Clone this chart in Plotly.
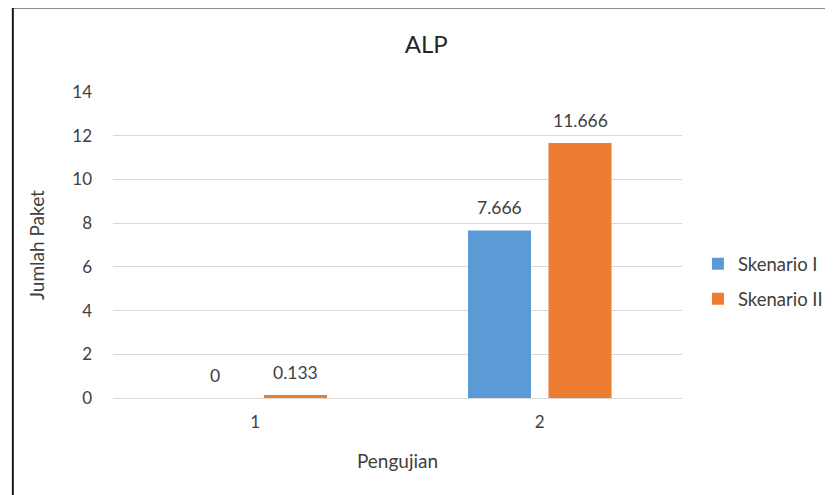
import plotly.graph_objects as go

categories = ["1", "2"]
skenario_1 = [0, 7.666]
skenario_2 = [0.133, 11.666]
labels_1 = ["0", "7.666"]
labels_2 = ["0.133", "11.666"]
y_ticks = [0, 2, 4, 6, 8, 10, 12, 14]

FONT = "Lato, 'Open Sans', sans-serif"
TXT = "#404040"
BARGAP = 0.434

fig = go.Figure()
fig.add_trace(go.Bar(name="Skenario I", x=categories, y=skenario_1, legendgroup="a",
                     marker=dict(color="#5B9BD5", line=dict(width=0))))
fig.add_trace(go.Bar(name="Skenario II", x=categories, y=skenario_2, legendgroup="b",
                     marker=dict(color="#ED7D31", line=dict(width=0))))

annotations = []
slot = (1 - BARGAP) / 2
for i, c in enumerate(categories):
    for k, (vals, labs) in enumerate(((skenario_1, labels_1), (skenario_2, labels_2))):
        xpos = i + (k - 0.5) * slot
        annotations.append(dict(x=xpos, y=vals[i], text=labs[i], xref="x", yref="y",
                                showarrow=False, yanchor="bottom", yshift=10,
                                font=dict(family=FONT, size=17.5, color=TXT)))

fig.update_layout(
    width=833, height=495,
    margin=dict(l=105, r=159, t=84, b=105, autoexpand=False),
    paper_bgcolor="white", plot_bgcolor="white",
    barmode="group", bargap=BARGAP, bargroupgap=0.217,
    title=dict(text="ALP", x=0.502, xanchor="center", y=0.927, yanchor="middle",
               font=dict(family=FONT, size=24, color="#262626")),
    font=dict(family=FONT, color=TXT),
    xaxis=dict(type="category", tickfont=dict(size=17, color=TXT), ticklabelstandoff=9,
               title=dict(text="Pengujian", font=dict(size=19, color=TXT), standoff=23),
               showline=True, linecolor="#D9D9D9", linewidth=1, ticks="", range=[-0.5, 1.5]),
    yaxis=dict(range=[0, 14], tickvals=y_ticks, tickfont=dict(size=17, color=TXT),
               showgrid=True, gridcolor="#D9D9D9", gridwidth=1, zeroline=False,
               ticks="", ticklabelstandoff=20,
               title=dict(text="Jumlah Paket", font=dict(size=19, color=TXT), standoff=22),
               ),
    legend=dict(x=1.028, y=0.38, xanchor="left", yanchor="middle",
                font=dict(family=FONT, size=18.5, color=TXT), tracegroupgap=8,
                itemwidth=30, bgcolor="rgba(0,0,0,0)"),
    showlegend=True,
    annotations=annotations,
    shapes=[
        dict(type="line", xref="paper", yref="paper", x0=-0.176, x1=1.4, y0=1.276, y1=1.276,
             line=dict(color="#1a1a1a", width=2)),
        dict(type="line", xref="paper", yref="paper", x0=-0.176, x1=-0.176, y0=1.276, y1=-0.4,
             line=dict(color="#1a1a1a", width=2)),
    ],
)

fig.write_html("out.html")
